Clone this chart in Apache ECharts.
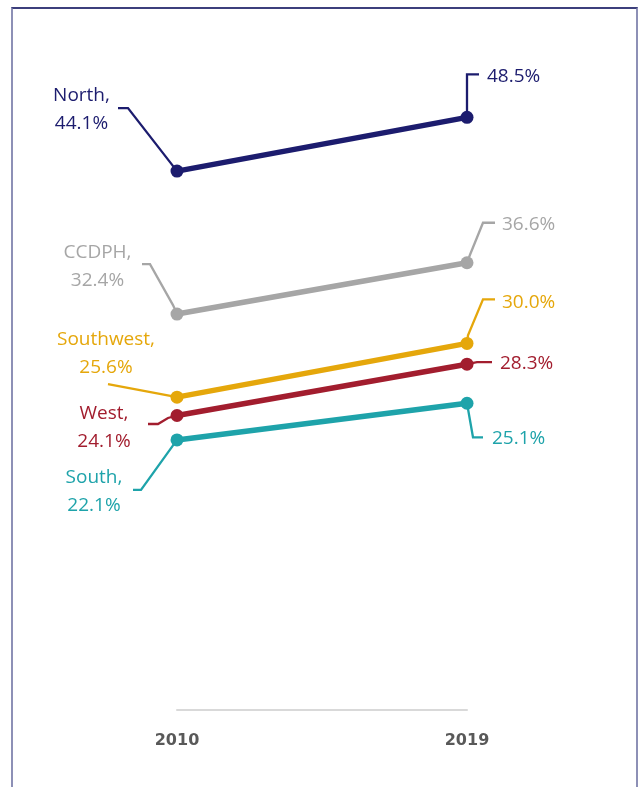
<!DOCTYPE html>
<html>
<head>
<meta charset="utf-8">
<title>Regional rates, 2010 vs 2019</title>
<script src="https://cdn.jsdelivr.net/npm/echarts@6/dist/echarts.min.js"></script>
<style>
  html, body { margin: 0; padding: 0; background: #ffffff; }
  #chart { position: absolute; left: 0; top: 0; width: 638px; height: 787px; }
  #frame {
    position: absolute; left: 11px; top: 7px; width: 623px; height: 800px;
    border-left: 2px solid #8d90b6; border-right: 2px solid #8d90b6;
    border-top: 2px solid #3c3f7c; pointer-events: none;
  }
</style>
</head>
<body>
<div id="chart"></div>
<div id="frame"></div>
<script>
// Years on the x axis
const years = ['2010', '2019'];

// Region names and their values (percent) for 2010 and 2019
const regions = ['North', 'CCDPH', 'Southwest', 'West', 'South'];
const north = [44.1, 48.5];
const ccdph = [32.4, 36.6];
const southwest = [25.6, 30.0];
const west = [24.1, 28.3];
const south = [22.1, 25.1];
const seriesValues = [north, ccdph, southwest, west, south];

const colors = ['#1c1c6e', '#a6a6a6', '#e5a70b', '#a21d2e', '#1ea3aa'];

// Callout placement, in pixels relative to each point:
// label anchor (centre of the left block / left edge of the right label)
// and the leader polyline that joins label and point.
const callouts = [
  { left: { dx: -95.5, dy: -62, path: [[-59, -63], [-49, -63], [0, 0]] },
    right: { dx: 20, dy: -41, path: [[0, 0], [0, -43], [12, -43]] } },
  { left: { dx: -79.5, dy: -47.5, path: [[-35, -50], [-27, -50], [-4, -9], [0, 0]] },
    right: { dx: 35, dy: -38, path: [[0, 0], [3, -8], [16, -40], [28, -40]] } },
  { left: { dx: -71, dy: -43.5, path: [[-69, -13], [0, 0]] },
    right: { dx: 35, dy: -41, path: [[0, 0], [1, -8], [16, -44], [28, -44]] } },
  { left: { dx: -73, dy: 12, path: [[-29, 8.5], [-19, 8.5], [-9, 2.5], [0, 0]] },
    right: { dx: 33, dy: -1, path: [[0, 0], [10, -2], [25, -2]] } },
  { left: { dx: -83, dy: 51.5, path: [[-44, 50], [-36, 50], [0, 0]] },
    right: { dx: 25, dy: 35, path: [[0, 0], [6, 34], [16, 34]] } }
];

const chart = echarts.init(document.getElementById('chart'), null, { renderer: 'canvas' });

const labelFont = { fontFamily: 'Open Sans', fontSize: 19 };

chart.setOption({
  backgroundColor: '#ffffff',
  animation: false,
  grid: { left: 177, right: 171, top: 99, bottom: 77 },
  xAxis: {
    type: 'category',
    data: years,
    boundaryGap: false,
    axisLine: { show: true, lineStyle: { color: '#d9d9d9', width: 2 } },
    axisTick: { show: false },
    axisLabel: {
      margin: 23,
      color: '#595959',
      fontFamily: 'DejaVu Sans',
      fontWeight: 'bold',
      fontSize: 16
    },
    splitLine: { show: false }
  },
  yAxis: {
    type: 'value',
    min: 0,
    max: 50,
    show: false,
    splitLine: { show: false }
  },
  series: regions.map((name, i) => ({
    name: name,
    type: 'line',
    data: seriesValues[i],
    symbol: 'circle',
    symbolSize: 13,
    lineStyle: { color: colors[i], width: 5.5 },
    itemStyle: { color: colors[i] },
    z: 10 - i
  }))
});

// Callout labels and leader lines, positioned from the plotted points
const graphics = [];
regions.forEach((name, i) => {
  const vals = seriesValues[i];
  const p0 = chart.convertToPixel({ gridIndex: 0 }, [0, vals[0]]);
  const p1 = chart.convertToPixel({ gridIndex: 0 }, [1, vals[1]]);
  const c = callouts[i];

  graphics.push({
    type: 'polyline',
    z: 5,
    shape: { points: c.left.path.map(([dx, dy]) => [p0[0] + dx, p0[1] + dy]) },
    style: { stroke: colors[i], lineWidth: 2.3, fill: null, lineJoin: 'miter' }
  });
  graphics.push({
    type: 'polyline',
    z: 5,
    shape: { points: c.right.path.map(([dx, dy]) => [p1[0] + dx, p1[1] + dy]) },
    style: { stroke: colors[i], lineWidth: 2.3, fill: null, lineJoin: 'miter' }
  });
  graphics.push({
    type: 'text',
    z: 6,
    x: p0[0] + c.left.dx,
    y: p0[1] + c.left.dy,
    style: {
      text: name + ',\n' + vals[0].toFixed(1) + '%',
      fill: colors[i],
      font: labelFont.fontSize + 'px "' + labelFont.fontFamily + '"',
      lineHeight: 28,
      align: 'center',
      verticalAlign: 'middle'
    }
  });
  graphics.push({
    type: 'text',
    z: 6,
    x: p1[0] + c.right.dx,
    y: p1[1] + c.right.dy,
    style: {
      text: vals[1].toFixed(1) + '%',
      fill: colors[i],
      font: labelFont.fontSize + 'px "' + labelFont.fontFamily + '"',
      align: 'left',
      verticalAlign: 'middle'
    }
  });
});

chart.setOption({ graphic: graphics });
</script>
</body>
</html>
